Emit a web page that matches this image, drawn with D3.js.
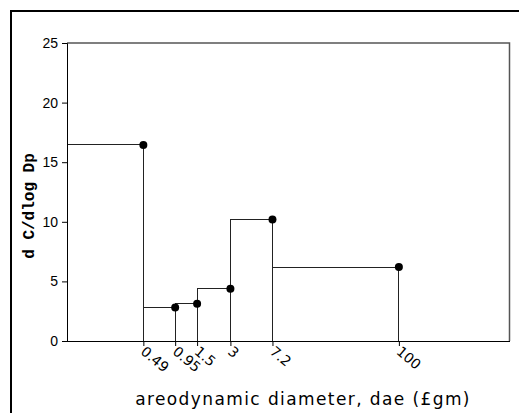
<!DOCTYPE html>
<meta charset="utf-8">
<script src="https://d3js.org/d3.v7.min.js"></script>
<style>
    body { margin: 0; background: #fff; }
    text { font-family: "DejaVu Sans", Verdana, sans-serif; }
</style>
<body>
<div id="my_dataviz"></div>
<script>
    // bin edges (aerodynamic diameter) and the value of each bin
    var binEdges = [0.1, 0.49, 0.95, 1.5, 3, 7.2, 100]
    var cutPoints = [0.49, 0.95, 1.5, 3, 7.2, 100]
    var binValues = [16.45, 2.8, 3.13, 4.39, 10.2, 6.2]
    var yTicks = [0, 5, 10, 15, 20, 25]

    var width = 519, height = 413
    var margin = {top: 43, right: 9, bottom: 72, left: 67}

    var svg = d3.select("#my_dataviz")
        .append("svg")
        .attr("width", width)
        .attr("height", height)

    // outer frame of the figure (right/bottom edges fall outside the picture)
    svg.append("rect")
        .attr("x", 11).attr("y", 11)
        .attr("width", 530).attr("height", 430)
        .attr("fill", "none")
        .attr("stroke", "black")
        .attr("stroke-width", 2)

    var x = d3.scaleLog()
        .domain([0.1, 1000])
        .range([margin.left, width - margin.right - 0.5])

    var y = d3.scaleLinear()
        .domain([0, 25])
        .range([height - margin.bottom, margin.top])

    var g = svg.append("g")

    // top and right frame lines
    g.append("path")
        .attr("d", "M" + x(0.1) + "," + y(25) + "H" + x(1000) + "V" + y(0))
        .attr("fill", "none")
        .attr("stroke", "#555")
        .attr("stroke-width", 1.5)

    // bars drawn as outlines
    var bins = binValues.map(function(v, i) { return {x0: binEdges[i], x1: binEdges[i+1], v: v} })
    g.selectAll("rect.bin")
        .data(bins)
        .enter()
        .append("rect")
        .attr("class", "bin")
        .attr("x", function(d) { return x(d.x0) })
        .attr("y", function(d) { return y(d.v) })
        .attr("width", function(d) { return x(d.x1) - x(d.x0) })
        .attr("height", function(d) { return y(0) - y(d.v) })
        .attr("fill", "none")
        .attr("stroke", "#222")
        .attr("stroke-width", 1)
        .attr("shape-rendering", "crispEdges")

    // Y axis
    var yAxis = svg.append("g")
        .attr("transform", "translate(" + margin.left + ",0)")
        .call(d3.axisLeft(y).tickValues(yTicks).tickSize(5).tickPadding(4))
    yAxis.selectAll("text")
        .style("font-family", "Arial, 'Liberation Sans', sans-serif")
        .style("font-size", "14px")
        .attr("fill", "#000")
    yAxis.selectAll("line, path").attr("stroke", "#000")

    // X axis
    var xAxis = svg.append("g")
        .attr("transform", "translate(0," + y(0) + ")")
        .call(d3.axisBottom(x).tickValues(cutPoints).tickFormat(function(d) { return d }).tickSize(5).tickSizeOuter(0))
    xAxis.selectAll("line, path").attr("stroke", "#000")
    xAxis.selectAll("text")
        .style("font-size", "14px")
        .attr("fill", "#000")
        .attr("text-anchor", "start")
        .attr("dy", null)
        .attr("y", 0)
        .attr("transform", "translate(-4,12) rotate(40)")

    // dots at the upper cut of each bin
    svg.selectAll("circle")
        .data(cutPoints)
        .enter()
        .append("circle")
        .attr("cx", function(d) { return x(d) })
        .attr("cy", function(d, i) { return y(binValues[i]) })
        .attr("r", 4)
        .attr("fill", "black")

    // axis titles
    svg.append("text")
        .attr("x", 303)
        .attr("y", 405)
        .attr("text-anchor", "middle")
        .style("font-size", "17px")
        .style("letter-spacing", "1.4px")
        .text("areodynamic diameter, dae (£gm)")

    svg.append("text")
        .attr("transform", "translate(34,206) rotate(-90)")
        .attr("text-anchor", "middle")
        .style("font-family", "'Liberation Mono', 'Courier New', monospace")
        .style("font-weight", "bold")
        .style("font-size", "16px")
        .text("d C/dlog Dp")
</script>
</body>
